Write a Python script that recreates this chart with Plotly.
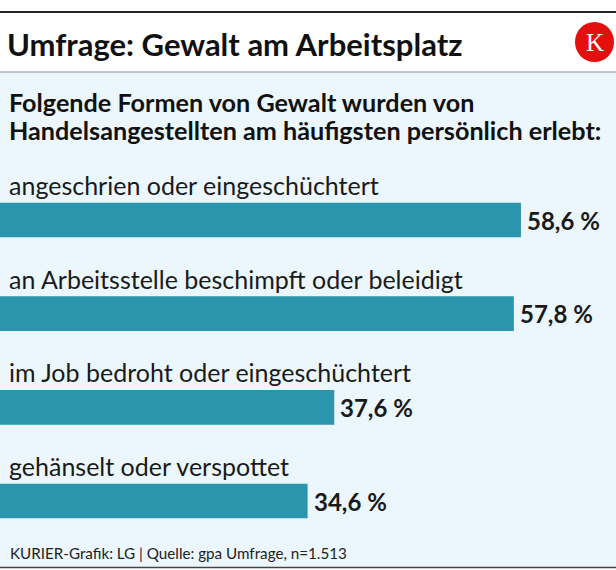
import plotly.graph_objects as go

categories = [
    "angeschrien oder eingeschüchtert",
    "an Arbeitsstelle beschimpft oder beleidigt",
    "im Job bedroht oder eingeschüchtert",
    "gehänselt oder verspottet",
]
values = [58.6, 57.8, 37.6, 34.6]
value_labels = ["58,6 %", "57,8 %", "37,6 %", "34,6 %"]

title = "Umfrage: Gewalt am Arbeitsplatz"
subtitle_lines = [
    "Folgende Formen von Gewalt wurden von",
    "Handelsangestellten am häufigsten persönlich erlebt:",
]
footer = "KURIER-Grafik: LG | Quelle: gpa Umfrage, n=1.513"

W, H = 616, 570
BAR_COLOR = "#2a95ac"
BG = "#ebf7fc"
FONT = "Lato"

def py(p):
    return 1 - p / H

pos = list(range(len(categories)))

fig = go.Figure()
fig.add_trace(go.Bar(
    x=values, y=pos, orientation="h",
    marker=dict(color=BAR_COLOR, line=dict(width=0)),
    width=0.37, hoverinfo="skip",
))

annotations = []
for i, (c, v, t) in enumerate(zip(categories, values, value_labels)):
    annotations.append(dict(
        x=0, y=i - 0.375, xref="x", yref="y", text=c, showarrow=False,
        xanchor="left", yanchor="middle", xshift=7,
        font=dict(family=FONT, size=25, color="#1a1a1a"),
    ))
    annotations.append(dict(
        x=v, y=i, xref="x", yref="y", text=t, showarrow=False,
        xanchor="left", yanchor="middle", xshift=4,
        font=dict(family=FONT, size=24, color="#1a1a1a", weight="bold"),
    ))

annotations.append(dict(
    x=5 / W, y=py(44), xref="paper", yref="paper", text=title, showarrow=False,
    xanchor="left", yanchor="middle",
    font=dict(family=FONT, size=31, color="#111111", weight="bold"),
))
for k, (line, yp) in enumerate(zip(subtitle_lines, [101.5, 129.5])):
    annotations.append(dict(
        x=7 / W, y=py(yp), xref="paper", yref="paper", text=line, showarrow=False,
        xanchor="left", yanchor="middle",
        font=dict(family=FONT, size=25.2, color="#111111", weight="bold"),
    ))
annotations.append(dict(
    x=8 / W, y=py(553), xref="paper", yref="paper", text=footer, showarrow=False,
    xanchor="left", yanchor="middle",
    font=dict(family=FONT, size=15.2, color="#222222"),
))
# logo letter
annotations.append(dict(
    x=594.5 / W, y=py(42), xref="paper", yref="paper", text="K", showarrow=False,
    xanchor="center", yanchor="middle",
    font=dict(family="Liberation Serif", size=25, color="#ffffff"),
))

shapes = [
    dict(type="rect", xref="paper", yref="paper", x0=0, x1=1, y0=py(567), y1=py(72.5),
         fillcolor=BG, line=dict(width=0), layer="below"),
    dict(type="line", xref="paper", yref="paper", x0=0, x1=1, y0=py(12), y1=py(12),
         line=dict(color="#222222", width=2)),
    dict(type="line", xref="paper", yref="paper", x0=0, x1=1, y0=py(72), y1=py(72),
         line=dict(color="#8a8a8a", width=1)),
    dict(type="line", xref="paper", yref="paper", x0=0, x1=1, y0=py(567.5), y1=py(567.5),
         line=dict(color="#444444", width=1.5)),
    dict(type="circle", xref="paper", yref="paper",
         x0=575 / W, x1=614 / W, y0=py(62), y1=py(22),
         fillcolor="#e3100f", line=dict(width=0)),
]

px_per_unit = 93.67
y_top = (0 - 220) / px_per_unit
y_bot = (H - 220) / px_per_unit

fig.update_layout(
    width=W, height=H,
    margin=dict(l=0, r=0, t=0, b=0),
    paper_bgcolor="#ffffff", plot_bgcolor="rgba(0,0,0,0)",
    showlegend=False,
    xaxis=dict(range=[0, W / 8.89], visible=False, fixedrange=True),
    yaxis=dict(range=[y_bot, y_top], visible=False, fixedrange=True),
    annotations=annotations, shapes=shapes,
)

fig.write_html(
    "out.html",
    config={"displayModeBar": False},
    post_script="document.body.style.margin='0';document.body.style.overflow='hidden';",
)
